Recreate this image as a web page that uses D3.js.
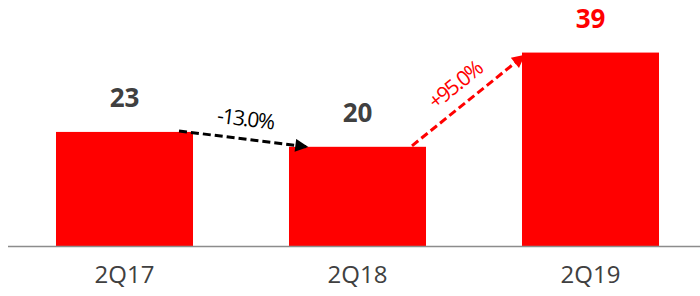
<!DOCTYPE html>
<html>
<head>
<meta charset="utf-8">
<script src="https://cdn.jsdelivr.net/npm/d3@7"></script>
<style>
  body { margin: 0; background: #fff; }
  text { font-family: "Open Sans", "Noto Sans", sans-serif; }
</style>
</head>
<body>
<div id="chart"></div>
<script>
var categories = ["2Q17", "2Q18", "2Q19"];
var values = [23, 20, 39];
var valueColors = ["#404040", "#404040", "#ff0000"];
var changes = ["-13.0%", "+95.0%"];
var changeColors = ["#000000", "#ff0000"];

var width = 700, height = 296;
var baseline = 246;

var svg = d3.select("#chart")
    .append("svg")
    .attr("width", width)
    .attr("height", height);

var x = d3.scaleBand()
    .domain(categories)
    .range([8, 707])
    .paddingInner(0.412)
    .paddingOuter(0.206);

var y = d3.scaleLinear()
    .domain([0, 49.6])
    .range([baseline, 0]);

var defs = svg.append("defs");
changeColors.forEach(function(c, i) {
  defs.append("marker")
      .attr("id", "arrow" + i)
      .attr("viewBox", "0 0 10 10")
      .attr("refX", 9)
      .attr("refY", 5)
      .attr("markerUnits", "userSpaceOnUse")
      .attr("markerWidth", 17)
      .attr("markerHeight", 13)
      .attr("orient", "auto")
      .append("path")
      .attr("d", "M0,0 L10,5 L0,10 Z")
      .attr("fill", c);
});

var data = categories.map(function(c, i) { return {cat: c, value: values[i], color: valueColors[i]}; });

svg.selectAll(".bar")
    .data(data)
    .enter()
    .append("rect")
    .attr("class", "bar")
    .attr("x", function(d) { return x(d.cat); })
    .attr("y", function(d) { return y(d.value); })
    .attr("width", x.bandwidth())
    .attr("height", function(d) { return baseline - y(d.value); })
    .attr("fill", "#ff0000");

// axis line
svg.append("line")
    .attr("x1", 8)
    .attr("x2", width)
    .attr("y1", baseline + 0.5)
    .attr("y2", baseline + 0.5)
    .attr("stroke", "#8c8c8c")
    .attr("stroke-width", 1.5);

// category labels
var xAxis = svg.append("g")
    .attr("transform", `translate(0, ${baseline})`)
    .call(d3.axisBottom(x).tickSize(0).tickPadding(20));
xAxis.select(".domain").remove();
xAxis.selectAll("text")
    .style("font-family", "'Open Sans', sans-serif")
    .style("font-size", "24px")
    .attr("dy", "0.71em")
    .attr("fill", "#404040");

// value labels
svg.selectAll(".val")
    .data(data)
    .enter()
    .append("text")
    .attr("class", "val")
    .attr("x", function(d) { return x(d.cat) + x.bandwidth() / 2; })
    .attr("y", function(d) { return y(d.value) - 25; })
    .attr("text-anchor", "middle")
    .style("font-size", "26px")
    .style("font-weight", "bold")
    .attr("fill", function(d) { return d.color; })
    .text(function(d) { return d.value; });

// change arrows
var arrows = changes.map(function(label, i) {
  var a = data[i], b = data[i + 1];
  var up = b.value > a.value;
  return {
    label: label,
    color: changeColors[i],
    x1: x(a.cat) + x.bandwidth() - 14,
    y1: y(a.value) - 1,
    x2: x(b.cat) + (up ? 2 : 18),
    y2: y(b.value) + (up ? 3 : 0),
    i: i
  };
});

svg.selectAll(".chg")
    .data(arrows)
    .enter()
    .append("line")
    .attr("class", "chg")
    .attr("x1", function(d) { return d.x1; })
    .attr("y1", function(d) { return d.y1; })
    .attr("x2", function(d) { return d.x2; })
    .attr("y2", function(d) { return d.y2; })
    .attr("stroke", function(d) { return d.color; })
    .attr("stroke-width", 3)
    .attr("stroke-dasharray", "8,4")
    .attr("marker-end", function(d) { return "url(#arrow" + d.i + ")"; });

svg.selectAll(".chgLabel")
    .data(arrows)
    .enter()
    .append("text")
    .attr("class", "chgLabel")
    .attr("transform", function(d) {
      var ang = Math.atan2(d.y2 - d.y1, d.x2 - d.x1) * 180 / Math.PI;
      var mx = (d.x1 + d.x2) / 2, my = (d.y1 + d.y2) / 2;
      return `translate(${mx},${my}) rotate(${ang}) translate(0,-13)`;
    })
    .attr("text-anchor", "middle")
    .style("font-size", "21px")
    .style("letter-spacing", "-1.5px")
    .attr("fill", function(d) { return d.color; })
    .text(function(d) { return d.label; });
</script>
</body>
</html>
